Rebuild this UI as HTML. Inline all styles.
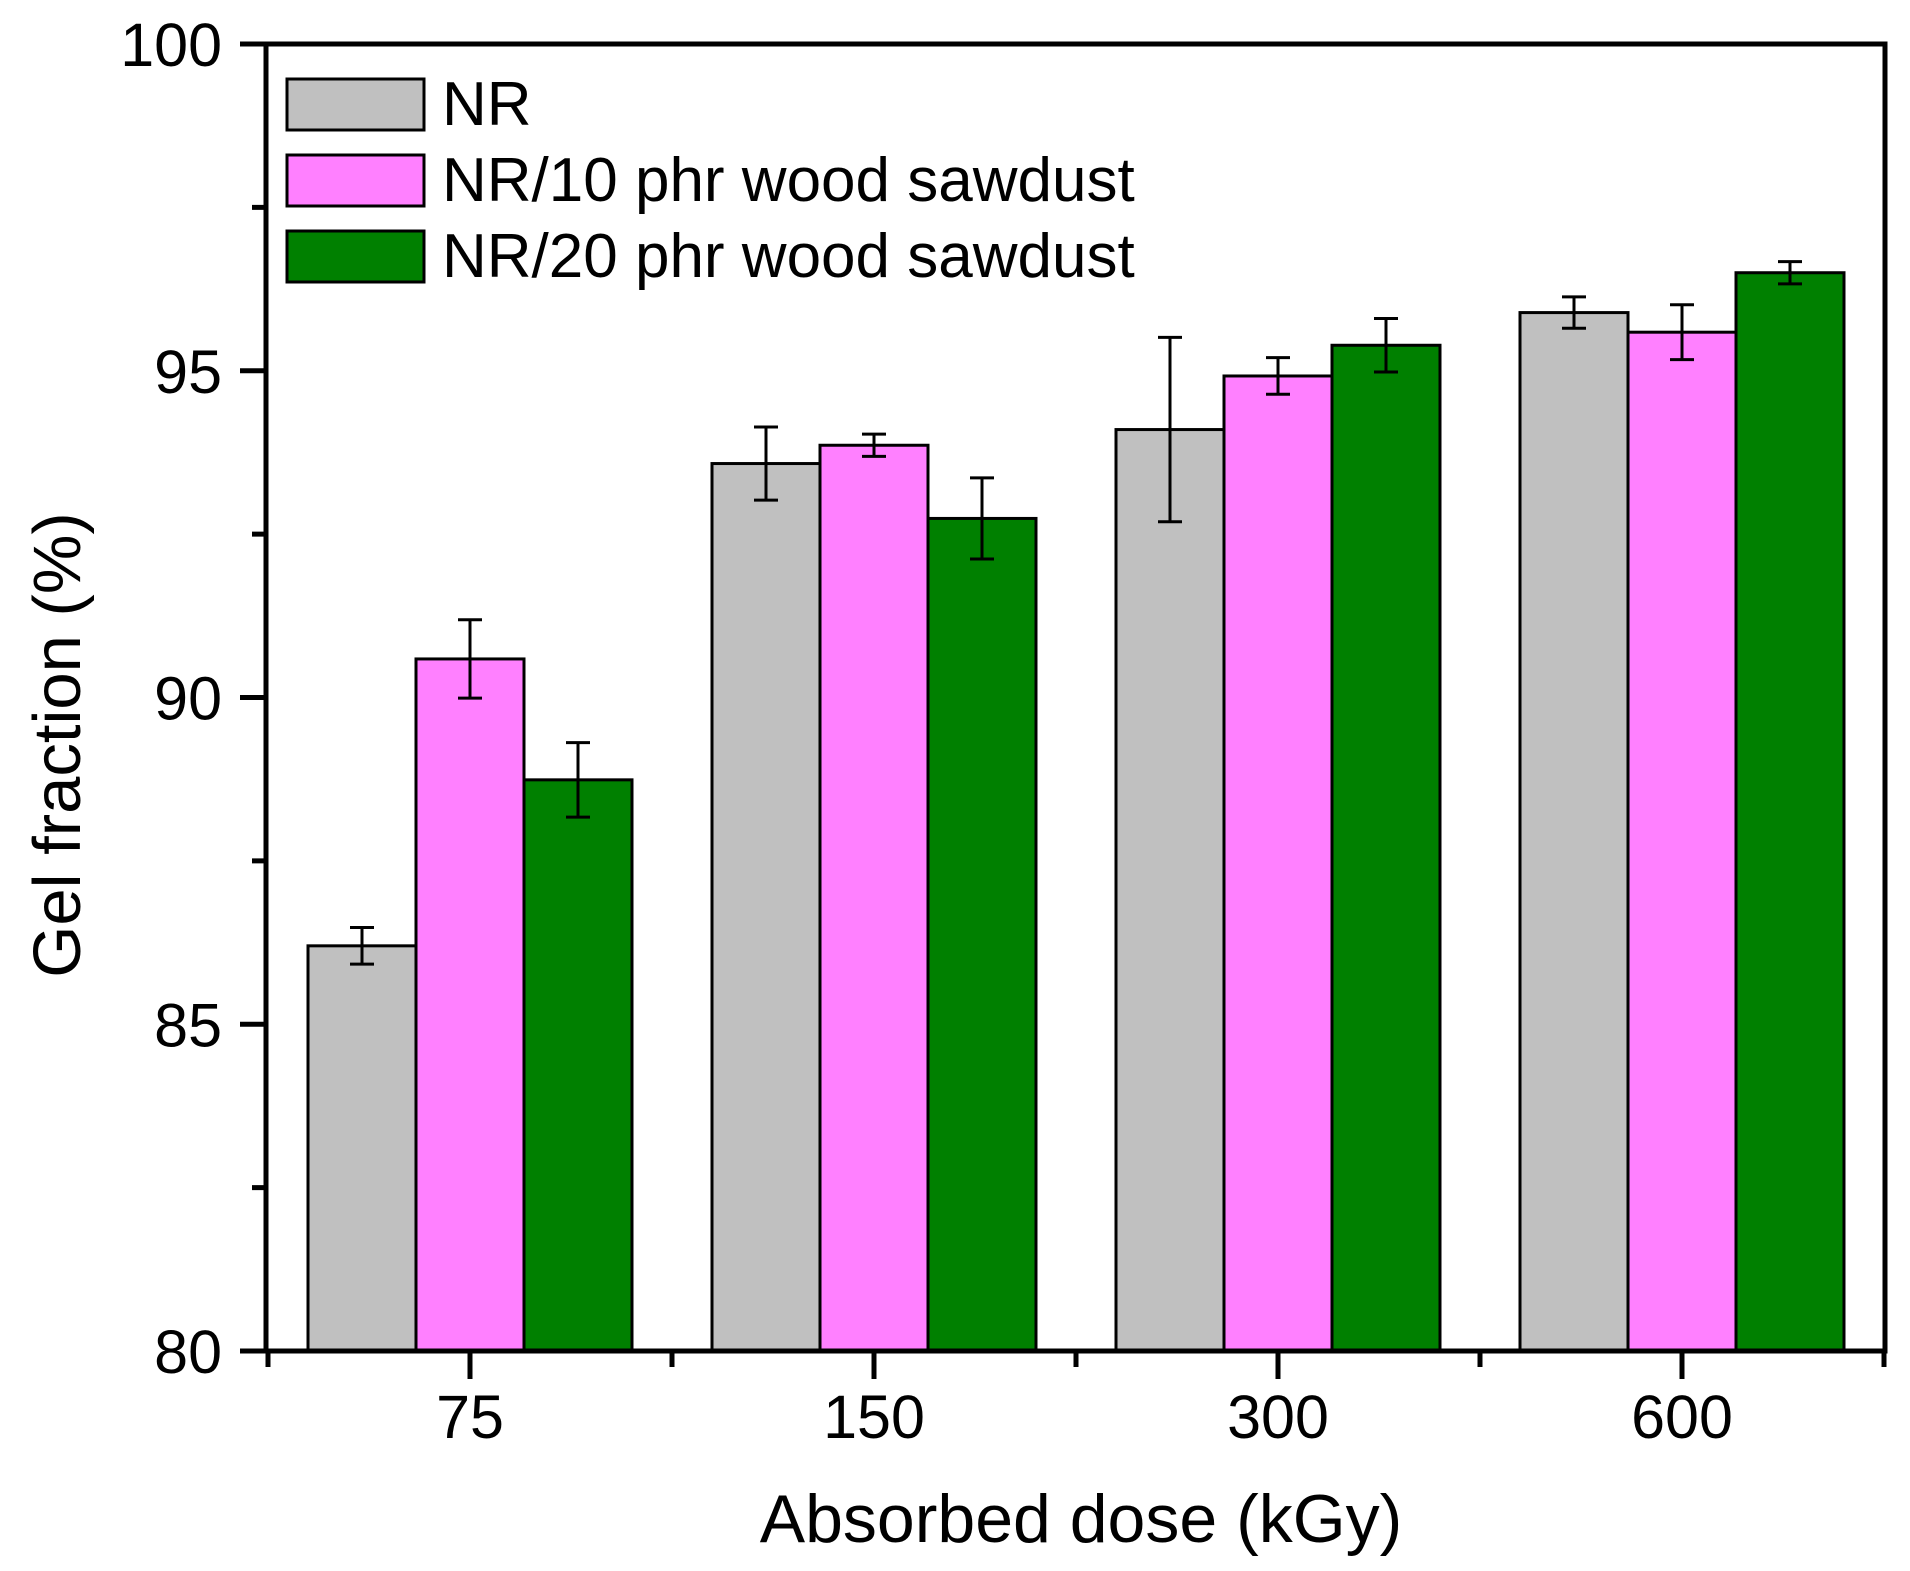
<!DOCTYPE html>
<html><head><meta charset="utf-8"><style>
html,body{margin:0;padding:0;background:#fff}
svg{display:block;font-family:"Liberation Sans",Arial,sans-serif}
</style></head><body>
<svg id="chart" width="1910" height="1571" viewBox="0 0 1910 1571" xmlns="http://www.w3.org/2000/svg"></svg>
<script>
const categories = ["75","150","300","600"];
const seriesNames = ["NR","NR/10 phr wood sawdust","NR/20 phr wood sawdust"];
const nrValues = [86.2, 93.58, 94.1, 95.89];
const nr10Values = [90.59, 93.86, 94.92, 95.59];
const nr20Values = [88.74, 92.74, 95.39, 96.5];
const nrErrors = [0.28, 0.56, 1.41, 0.24];
const nr10Errors = [0.6, 0.17, 0.28, 0.42];
const nr20Errors = [0.57, 0.62, 0.41, 0.17];
const yTicks = [80, 85, 90, 95, 100];

const svg = document.getElementById('chart');
const NS = 'http://www.w3.org/2000/svg';
const L = 266, R = 1885, T = 44, B = 1351;
const yMin = 80, yMax = 100;
const step = 404, firstCenter = 470, barW = 108;
const colors = ['#c0c0c0', '#ff80ff', '#008000'];
const values = [nrValues, nr10Values, nr20Values];
const errors = [nrErrors, nr10Errors, nr20Errors];
function yScale(v){ return B - (v - yMin) / (yMax - yMin) * (B - T); }
function xCenter(i){ return firstCenter + i * step; }
function mk(tag, attrs, parent){
  const e = document.createElementNS(NS, tag);
  for (const k in attrs) e.setAttribute(k, attrs[k]);
  (parent || svg).appendChild(e);
  return e;
}

for (let s = 0; s < 3; s++) {
  const g = mk('g', {});
  
  
  for (let i = 0; i < categories.length; i++) {
    const x = xCenter(i) - 1.5 * barW + s * barW;
    const y = yScale(values[s][i]);
    const r = mk('rect', {x: x, y: y, width: barW, height: B - y, fill: colors[s], stroke: '#000', 'stroke-width': 3}, g);
    
    
  }
}
for (let s = 0; s < 3; s++) {
  for (let i = 0; i < categories.length; i++) {
    const cx = xCenter(i) - barW + s * barW;
    const y1 = yScale(values[s][i] + errors[s][i]);
    const y2 = yScale(values[s][i] - errors[s][i]);
    const g = mk('g', {stroke: '#000', 'stroke-width': 3});
    
    
    mk('line', {x1: cx, x2: cx, y1: y1, y2: y2}, g);
    mk('line', {x1: cx - 12, x2: cx + 12, y1: y1, y2: y1}, g);
    mk('line', {x1: cx - 12, x2: cx + 12, y1: y2, y2: y2}, g);
  }
}
const frame = mk('rect', {x: L, y: T, width: R - L, height: B - T, fill: 'none', stroke: '#000', 'stroke-width': 5});


for (let k = 0; k < yTicks.length; k++) {
  const y = yScale(yTicks[k]);
  const t = mk('line', {x1: L - 26, x2: L, y1: y, y2: y, stroke: '#000', 'stroke-width': 5});
  
  
  const lb = mk('text', {x: 222, y: y + 22, 'font-size': 61, 'text-anchor': 'end', fill: '#000'});
  lb.textContent = yTicks[k];
  
  
  if (k < yTicks.length - 1) {
    const ym = yScale(yTicks[k] + 2.5);
    const m = mk('line', {x1: L - 14, x2: L, y1: ym, y2: ym, stroke: '#000', 'stroke-width': 5});
    
    
  }
}
for (let i = 0; i < categories.length; i++) {
  const x = xCenter(i);
  const t = mk('line', {x1: x, x2: x, y1: B, y2: B + 28, stroke: '#000', 'stroke-width': 5});
  
  
  const lb = mk('text', {x: x, y: 1438, 'font-size': 61, 'text-anchor': 'middle', fill: '#000'});
  lb.textContent = categories[i];
  
  
}
for (let i = 0; i <= categories.length; i++) {
  const x = xCenter(i) - step / 2;
  const m = mk('line', {x1: x, x2: x, y1: B, y2: B + 16, stroke: '#000', 'stroke-width': 5});
  
  
}
const xt = mk('text', {x: 1081, y: 1542, 'font-size': 68, 'text-anchor': 'middle', fill: '#000'});
xt.textContent = 'Absorbed dose (kGy)';


const yt = mk('text', {x: 0, y: 0, 'font-size': 67, 'text-anchor': 'middle', fill: '#000', transform: 'translate(80,745) rotate(-90)'});
yt.textContent = 'Gel fraction (%)';


const lg = mk('g', {});


for (let s = 0; s < 3; s++) {
  const y = 79 + s * 76;
  const sw = mk('rect', {x: 287, y: y, width: 137, height: 51, fill: colors[s], stroke: '#000', 'stroke-width': 3}, lg);
  
  
  const tx = mk('text', {x: 442, y: y + 46, 'font-size': 62, fill: '#000'}, lg);
  tx.textContent = seriesNames[s];
  
  
}
</script>
</body></html>
